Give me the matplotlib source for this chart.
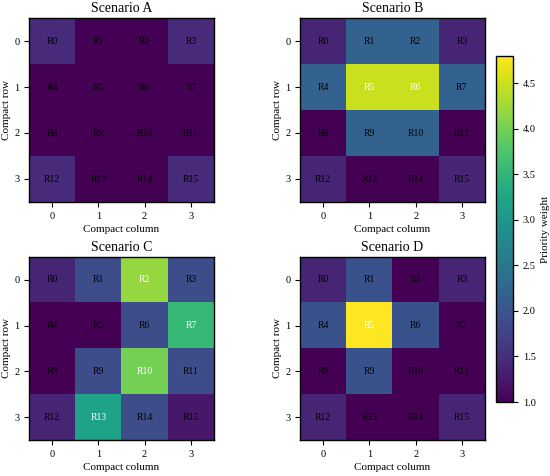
"""
Priority weight heatmaps for four compact-grid scenarios.
"""

import numpy as np
import matplotlib

matplotlib.use("Agg")
import matplotlib.pyplot as plt

plt.rcParams["font.family"] = ["Liberation Serif", "DejaVu Serif"]

# Values (rows top to bottom, columns left to right).
scenario_names = ["Scenario A", "Scenario B", "Scenario C", "Scenario D"]
scenario_a = [
    [1.45, 1.0, 1.0, 1.45],
    [1.0, 1.0, 1.0, 1.0],
    [1.0, 1.0, 1.0, 1.0],
    [1.45, 1.0, 1.0, 1.45],
]
scenario_b = [
    [1.4, 2.2, 2.2, 1.4],
    [2.2, 4.5, 4.5, 2.2],
    [1.0, 2.2, 2.2, 1.0],
    [1.4, 1.0, 1.0, 1.4],
]
scenario_c = [
    [1.4, 1.9, 4.2, 1.9],
    [1.0, 1.0, 1.9, 3.55],
    [1.0, 1.9, 4.0, 1.9],
    [1.4, 3.2, 1.9, 1.25],
]
scenario_d = [
    [1.4, 1.95, 1.0, 1.4],
    [1.95, 4.8, 1.95, 1.0],
    [1.0, 1.95, 1.0, 1.0],
    [1.4, 1.0, 1.0, 1.4],
]
cell_labels = [f"R{i}" for i in range(16)]
tick_positions = [0, 1, 2, 3]
cbar_ticks = [1.0, 1.5, 2.0, 2.5, 3.0, 3.5, 4.0, 4.5]


def main() -> int:
    grids = [np.array(g) for g in (scenario_a, scenario_b, scenario_c, scenario_d)]
    vmin = min(g.min() for g in grids)
    vmax = max(g.max() for g in grids)
    threshold = (vmin + vmax) / 2

    fig = plt.figure(figsize=(5.5, 4.76), dpi=100)
    W, H = 550, 476
    # pixel boxes (left, top, right, bottom)
    boxes = [
        (29, 18, 214, 202),
        (300, 18, 485, 202),
        (29, 257, 214, 440),
        (300, 257, 485, 440),
    ]

    im = None
    for name, grid, (l, t, r, b) in zip(scenario_names, grids, boxes):
        ax = fig.add_axes([l / W, 1 - b / H, (r - l) / W, (b - t) / H])
        im = ax.imshow(grid, cmap="viridis", vmin=vmin, vmax=vmax, aspect="auto")
        for i in range(grid.shape[0]):
            for j in range(grid.shape[1]):
                val = grid[i, j]
                ax.text(
                    j, i, cell_labels[i * 4 + j],
                    ha="center", va="center", fontsize=7,
                    color="white" if val > threshold else "black",
                )
        ax.set_xticks(tick_positions)
        ax.set_yticks(tick_positions)
        ax.tick_params(labelsize=7.5, length=3.5, width=0.8)
        ax.set_title(name, fontsize=10, pad=4)
        ax.set_xlabel("Compact column", fontsize=8, labelpad=3)
        ax.set_ylabel("Compact row", fontsize=8, labelpad=2)
        for sp in ax.spines.values():
            sp.set_linewidth(1.0)

    cax = fig.add_axes([496 / W, 1 - 402 / H, 17 / W, 346 / H])
    cbar = fig.colorbar(im, cax=cax, ticks=cbar_ticks)
    cbar.ax.tick_params(labelsize=7.5, length=3.5, width=0.8)
    cbar.set_label("Priority weight", fontsize=8)
    cbar.outline.set_linewidth(1.0)

    fig.savefig("out.png", dpi=100)
    plt.close(fig)
    return 0


if __name__ == "__main__":
    raise SystemExit(main())
